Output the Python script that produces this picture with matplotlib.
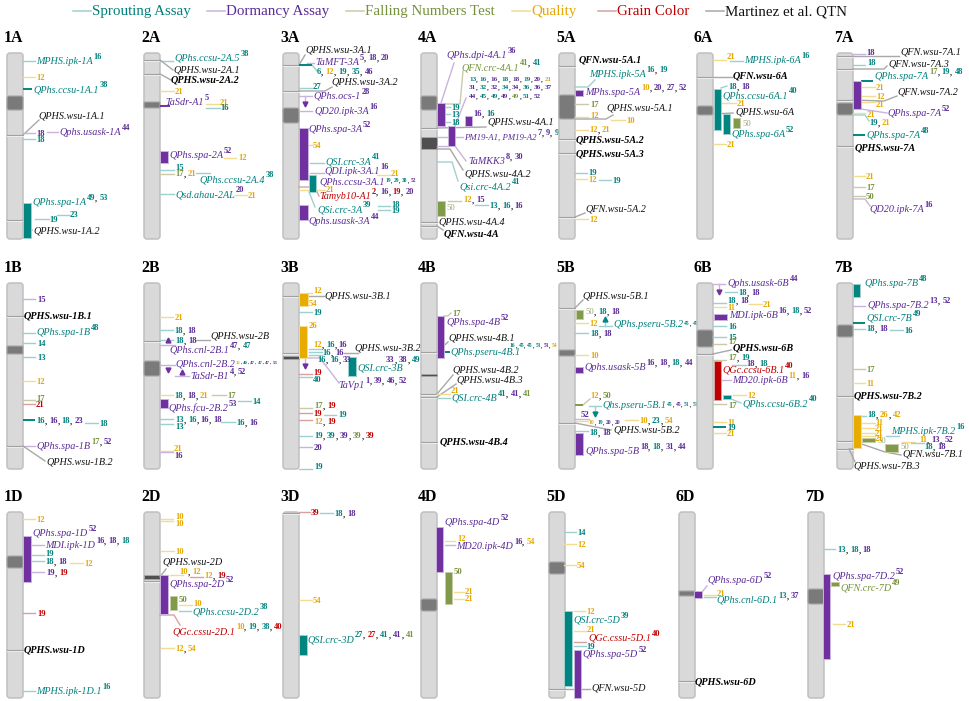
import matplotlib
matplotlib.use('Agg')
import matplotlib.pyplot as plt
from matplotlib.patches import FancyBboxPatch, Rectangle

plt.rcParams['font.family'] = ['Liberation Serif', 'DejaVu Serif']

WIDTH, HEIGHT = 970, 701
CHROM_W, CHROM_H = 16, 186

# trait codes: S sprouting, D dormancy, F falling number, Q quality, G grain colour, M Martinez QTN
LEGEND_NAMES = ['Sprouting Assay', 'Dormancy Assay', 'Falling Numbers Test', 'Quality', 'Grain Color', 'Martinez et al. QTN']
LEGEND_CODES = ['S', 'D', 'F', 'Q', 'G', 'M']
LEGEND_X = [73, 207, 346, 512, 598, 706]

CHROM_NAMES = ['1A', '2A', '3A', '4A', '5A', '6A', '7A',
               '1B', '2B', '3B', '4B', '5B', '6B', '7B',
               '1D', '2D', '3D', '4D', '5D', '6D', '7D']
CHROM_LEFT = [7, 144, 283, 421, 559, 697, 837,
              7, 144, 283, 421, 559, 697, 837,
              7, 144, 283, 421, 549, 679, 808]
CHROM_TOP = [53] * 7 + [283] * 7 + [512] * 7

# all positions below are px from the chromosome's left edge / top end
CENTROMERES = {
    '1A': (43, 57), '2A': (49, 55), '3A': (55, 70), '4A': (43, 57), '5A': (42, 66), '6A': (53, 62), '7A': (50, 62),
    '1B': (63, 71), '2B': (78, 93), '5B': (67, 73), '6B': (47, 64), '7B': (42, 54),
    '1D': (44, 56), '4D': (87, 99), '5D': (50, 62), '6D': (79, 84), '7D': (77, 92),
}
DARK_SEGMENTS = {'4A': (84, 96), '3B': (73, 76), '4B': (91, 93), '2D': (63, 67)}
BANDS = {
    '1A': [82, 167], '2A': [7, 21], '3A': [12, 38], '4A': [75, 169, 173], '5A': [13, 86, 100, 164], '6A': [24], '7A': [3, 16, 47, 93],
    '1B': [33, 163], '2B': [58], '3B': [13, 70], '4B': [69, 111, 114, 159], '5B': [25, 140], '6B': [71], '7B': [113, 158, 166],
    '1D': [138], '2D': [69], '3D': [1], '5D': [177], '6D': [169],
}

# (trait, x0, x1, y0, y1)
BARS = {
    '1A': [('S', 16, 24, 150, 185)],
    '2A': [('D', 16, 24, 98, 110)],
    '3A': [('D', 16, 25, 75, 127), ('S', 26, 33, 122, 139), ('D', 16, 25, 152, 167)],
    '4A': [('D', 16, 24, 50, 73), ('D', 27, 34, 73, 93), ('D', 44, 51, 63, 73), ('F', 16, 24, 148, 163)],
    '5A': [('D', 16, 24, 37, 43)],
    '6A': [('S', 17, 24, 36, 77), ('S', 26, 33, 61, 81), ('F', 36, 43, 65, 75)],
    '7A': [('D', 16, 24, 28, 56)],
    '2B': [('D', 16, 24, 116, 125)],
    '3B': [('Q', 16, 25, 10, 23), ('Q', 16, 24, 43, 75), ('S', 65, 73, 74, 93)],
    '4B': [('D', 16, 23, 33, 75)],
    '5B': [('F', 17, 24, 27, 36), ('D', 16, 24, 84, 90), ('D', 16, 24, 150, 172)],
    '6B': [('D', 17, 30, 31, 37), ('G', 17, 24, 78, 117), ('S', 26, 34, 112, 116)],
    '7B': [('S', 16, 23, 1, 14), ('Q', 16, 24, 132, 165), ('F', 25, 38, 155, 159), ('F', 48, 61, 161, 169)],
    '1D': [('D', 16, 24, 24, 70)],
    '2D': [('D', 16, 24, 63, 102), ('F', 26, 33, 84, 98)],
    '3D': [('S', 16, 24, 123, 143)],
    '4D': [('D', 15, 22, 15, 60), ('F', 24, 31, 60, 92)],
    '5D': [('S', 15, 23, 99, 174), ('D', 25, 32, 138, 186)],
    '6D': [('D', 15, 23, 79, 86)],
    '7D': [('D', 15, 22, 62, 147), ('F', 23, 31, 70, 74)],
}

# (trait, x0, y0, x1, y1, ...) polylines, drawn pale
LINES = {
    '1A': [('S', 16, 8, 28, 8), ('Q', 16, 24, 28, 24), ('M', 16, 82, 32, 67), ('D', 16, 80, 28, 80), ('D', 40, 79, 51, 79),
           ('S', 16, 86, 28, 86), ('S', 28, 166, 42, 166), ('S', 50, 162, 63, 162), ('M', 16, 167, 25, 177)],
    '2A': [('S', 16, 8, 29, 8), ('M', 16, 7, 29, 17), ('M', 16, 21, 27, 27), ('Q', 16, 38, 30, 38), ('Q', 62, 51, 76, 51),
           ('S', 62, 55, 76, 55), ('Q', 80, 105, 92, 105), ('S', 16, 117, 30, 117), ('F', 16, 121, 30, 121),
           ('S', 52, 120, 66, 120), ('S', 16, 141, 30, 141), ('Q', 91, 142, 103, 142)],
    '3A': [('M', 16, 12, 22, 2), ('D', 24, 10, 31, 10), ('S', 29, 12, 34, 18), ('S', 16, 35, 29, 35), ('M', 16, 38, 42, 38, 49, 34),
           ('D', 16, 43, 29, 43), ('D', 22, 43, 22, 50), ('D', 16, 58, 29, 58), ('Q', 16, 92, 30, 92), ('S', 27, 110, 41, 110),
           ('D', 27, 120, 41, 120), ('Q', 94, 122, 107, 122), ('G', 16, 134, 32, 134, 36, 143), ('Q', 16, 137, 42, 137),
           ('S', 26, 139, 32, 154), ('S', 95, 153, 107, 153), ('S', 95, 157, 107, 157)],
    '4A': [('D', 20, 50, 33, 10), ('F', 24, 51, 39, 51, 42, 18), ('S', 24, 54, 29, 54), ('S', 24, 61, 29, 61), ('S', 24, 69, 29, 69),
           ('D', 34, 73, 45, 45), ('M', 16, 75, 65, 74), ('D', 16, 84, 42, 84), ('D', 16, 93, 27, 93), ('D', 34, 93, 45, 108),
           ('M', 16, 96, 29, 96, 42, 117), ('S', 16, 109, 31, 109, 37, 128), ('F', 27, 148, 40, 148), ('S', 54, 152, 67, 152),
           ('M', 16, 173, 22, 177)],
    '5A': [('S', 16, 34, 29, 34, 36, 27), ('F', 16, 51, 29, 51), ('Q', 16, 64, 29, 64), ('M', 16, 66, 47, 66, 54, 62),
           ('Q', 52, 67, 66, 67), ('Q', 16, 77, 29, 77), ('S', 16, 120, 28, 120), ('Q', 16, 126, 28, 126), ('S', 40, 127, 52, 127),
           ('M', 16, 164, 26, 160), ('Q', 16, 166, 29, 166)],
    '6A': [('Q', 16, 7, 29, 7), ('S', 33, 8, 46, 8), ('M', 16, 24, 35, 24), ('S', 24, 35, 30, 33), ('Q', 24, 50, 39, 50),
           ('M', 16, 61, 36, 60), ('Q', 16, 91, 29, 91)],
    '7A': [('D', 16, 1, 28, 1), ('M', 16, 3, 62, 3), ('S', 16, 12, 28, 12), ('M', 16, 16, 47, 16, 50, 13), ('Q', 25, 34, 38, 34),
           ('Q', 25, 43, 38, 43), ('Q', 25, 49, 38, 49), ('M', 16, 47, 47, 48, 60, 43), ('D', 24, 56, 50, 60), ('Q', 16, 60, 28, 60),
           ('S', 16, 62, 28, 62, 32, 68), ('Q', 16, 123, 28, 123), ('F', 16, 134, 28, 134), ('F', 16, 143, 28, 143),
           ('D', 16, 146, 28, 146, 33, 153)],
    '1B': [('D', 16, 16, 28, 16), ('M', 16, 33, 17, 33), ('S', 16, 50, 28, 50), ('S', 16, 60, 28, 60), ('S', 16, 74, 28, 74),
           ('Q', 16, 98, 28, 98), ('F', 16, 117, 28, 117), ('G', 16, 121, 28, 121), ('S', 78, 140, 91, 140), ('D', 16, 163, 28, 163),
           ('M', 16, 163, 38, 178)],
    '2B': [('Q', 16, 34, 29, 34), ('S', 16, 47, 29, 47), ('S', 16, 57, 29, 57), ('M', 52, 57, 66, 57), ('D', 16, 62, 31, 62),
           ('D', 16, 82, 31, 82), ('D', 31, 93, 45, 93), ('Q', 16, 112, 29, 112), ('F', 68, 112, 82, 112), ('S', 94, 118, 107, 118),
           ('S', 16, 136, 29, 136), ('S', 77, 139, 91, 139), ('S', 16, 141, 29, 141), ('Q', 16, 168, 29, 168), ('D', 16, 169, 29, 169)],
    '3B': [('Q', 25, 10, 29, 10), ('M', 16, 13, 41, 13), ('S', 16, 29, 29, 29), ('S', 26, 66, 39, 66), ('S', 26, 69, 39, 69),
           ('S', 26, 72, 39, 72), ('M', 61, 70, 75, 70), ('D', 24, 75, 37, 75, 56, 100), ('D', 22, 75, 22, 82), ('G', 16, 91, 29, 91),
           ('S', 16, 94, 29, 94), ('F', 16, 125, 29, 125), ('G', 16, 130, 29, 130), ('S', 41, 132, 53, 132), ('G', 16, 137, 29, 137),
           ('S', 16, 153, 29, 153), ('D', 16, 164, 29, 164), ('S', 16, 186, 29, 186)],
    '4B': [('F', 23, 33, 27, 33, 30, 30), ('M', 16, 69, 27, 59), ('M', 16, 111, 32, 92), ('M', 16, 114, 35, 101), ('Q', 16, 111, 29, 111),
           ('S', 16, 115, 29, 115)],
    '5B': [('M', 16, 25, 24, 17), ('Q', 16, 40, 29, 40), ('S', 40, 43, 53, 43), ('S', 46, 43, 46, 37), ('S', 16, 50, 29, 50),
           ('Q', 16, 72, 29, 72), ('F', 24, 122, 31, 116), ('S', 30, 123, 42, 123), ('S', 36, 123, 36, 130), ('D', 16, 136, 30, 136),
           ('Q', 16, 138, 29, 138), ('Q', 66, 137, 79, 137), ('M', 16, 140, 52, 147), ('S', 16, 148, 29, 148)],
    '6B': [('D', 16, 1, 28, 1, 28, 1), ('D', 22, 1, 22, 8), ('S', 28, 9, 40, 9), ('S', 16, 20, 29, 20), ('Q', 16, 24, 29, 24), ('Q', 52, 21, 65, 21),
           ('S', 16, 43, 29, 43), ('S', 16, 54, 29, 54), ('F', 16, 61, 29, 61), ('M', 16, 71, 34, 67), ('F', 16, 77, 29, 77),
           ('S', 35, 82, 49, 82), ('D', 24, 97, 34, 97), ('Q', 36, 112, 49, 112), ('S', 34, 116, 44, 120), ('F', 16, 121, 29, 121),
           ('Q', 16, 139, 29, 139), ('Q', 16, 150, 29, 150)],
    '7B': [('D', 16, 23, 28, 23), ('S', 16, 46, 28, 46), ('S', 53, 47, 66, 47), ('F', 16, 86, 28, 86), ('Q', 16, 100, 28, 100),
           ('S', 24, 133, 29, 133), ('Q', 25, 140, 38, 140), ('Q', 25, 145, 38, 145), ('Q', 25, 150, 38, 150), ('Q', 25, 153, 38, 153),
           ('S', 49, 153, 62, 153), ('Q', 65, 159, 78, 159), ('S', 74, 160, 87, 160), ('M', 16, 158, 48, 169, 64, 172),
           ('M', 16, 166, 12, 166, 18, 179)],
    '1D': [('Q', 16, 7, 28, 7), ('D', 25, 33, 37, 33), ('S', 25, 43, 37, 43), ('S', 25, 49, 37, 49), ('Q', 63, 51, 76, 51),
           ('D', 25, 60, 37, 60), ('G', 16, 101, 28, 101), ('S', 16, 179, 28, 179)],
    '2D': [('Q', 17, 7, 29, 7), ('Q', 17, 9, 29, 9), ('Q', 17, 39, 30, 39), ('M', 16, 65, 22, 57), ('Q', 26, 63, 39, 63), ('G', 46, 65, 59, 65),
           ('Q', 35, 93, 48, 93), ('S', 35, 99, 47, 99), ('G', 16, 103, 30, 103, 36, 113), ('Q', 17, 136, 30, 136)],
    '3D': [('G', 16, 0, 27, 0), ('S', 37, 1, 50, 1), ('Q', 16, 88, 29, 88)],
    '4D': [('Q', 24, 29, 34, 29), ('D', 24, 33, 34, 33), ('Q', 33, 80, 43, 80), ('Q', 33, 87, 43, 87)],
    '5D': [('S', 15, 20, 27, 20), ('Q', 15, 32, 27, 32), ('Q', 15, 53, 27, 53), ('Q', 25, 99, 36, 99), ('Q', 25, 119, 37, 119),
           ('G', 25, 130, 37, 130), ('S', 25, 134, 37, 134), ('M', 16, 177, 41, 177)],
    '6D': [('D', 23, 80, 28, 74), ('Q', 25, 83, 37, 83), ('S', 25, 85, 37, 85)],
    '7D': [('S', 15, 37, 27, 37), ('Q', 25, 112, 37, 112)],
}

# full strength short lines (trait, x0, x1, y)
DARK_LINES = {
    '1A': [('S', 16, 25, 36)], '2A': [('D', 16, 26, 53)], '3A': [('S', 16, 29, 12)], '7A': [('S', 24, 36, 28), ('S', 16, 28, 82)],
    '1B': [('S', 16, 28, 137)], '4B': [('S', 23, 29, 69)], '5B': [('F', 16, 24, 122)], '6B': [('S', 16, 29, 144)],
    '7B': [('S', 16, 28, 40)],
}

# (x, y, trait, 'v' or '^')
ARROWS = {
    '3A': [(22, 51, 'D', 'v')], '2B': [(24, 57, 'D', '^'), (24, 87, 'D', 'v'), (38, 89, 'D', '^')], '3B': [(22, 83, 'D', 'v')],
    '5B': [(46, 36, 'S', '^'), (36, 131, 'S', 'v')], '6B': [(22, 9, 'D', 'v')],
}

# (x, y, name, name colour, reference numbers); trait B = bold black, a leading ~ ` ^ = tiny numbers
NAMES = {
    '1A': [(29, 8, 'MPHS.ipk-1A', 'S', '16S'), (26, 36, 'QPhs.ccsu-1A.1', 'S', '38S'), (31, 62, 'QPHS.wsu-1A.1', 'M', ''),
           (52, 79, 'Qphs.usask-1A', 'D', '44D'), (25, 149, 'QPhs.spa-1A', 'S', '49S 53S'), (26, 177, 'QPHS.wsu-1A.2', 'M', '')],
    '2A': [(30, 5, 'QPhs.ccsu-2A.5', 'S', '38S'), (29, 16, 'QPHS.wsu-2A.1', 'M', ''), (27, 26, 'QPHS.wsu-2A.2', 'B', ''),
           (21, 49, 'TaSdr-A1', 'D', '5D'), (25, 102, 'QPhs.spa-2A', 'D', '52D'), (55, 126, 'QPhs.ccsu-2A.4', 'S', '38S'),
           (31, 141, 'Qsd.ahau-2AL', 'S', '20D')],
    '3A': [(22, -4, 'QPHS.wsu-3A.1', 'M', ''), (32, 9, 'TaMFT-3A', 'D', '5D 18D 20D'), (48, 29, 'QPHS.wsu-3A.2', 'M', ''),
           (30, 43, 'QPhs.ocs-1', 'D', '28D'), (31, 58, 'QD20.ipk-3A', 'D', '16D'), (25, 76, 'QPhs.spa-3A', 'D', '52D'),
           (42, 108, 'QSI.crc-3A', 'S', '41S'), (41, 118, 'QDI.ipk-3A.1', 'D', '16D'), (36, 128, 'QPhs.ccsu-3A.1', 'D', '~19S 29S 38S 52D'),
           (36, 143, 'Tamyb10-A1', 'G', '2G 16D 19G 20D'), (34, 156, 'QSi.crc-3A', 'S', '39S'), (25, 168, 'Qphs.usask-3A', 'D', '44D')],
    '4A': [(25, 2, 'QPhs.dpi-4A.1', 'D', '36D'), (40, 14, 'QFN.crc-4A.1', 'F', '41F 41S'), (66, 68, 'QPHS.wsu-4A.1', 'M', ''),
           (43, 84, 'PM19-A1, PM19-A2', 'D', '7D 9D 9S'), (47, 108, 'TaMKK3', 'D', '8D 30D'), (43, 120, 'QPHS.wsu-4A.2', 'M', ''),
           (38, 133, 'Qsi.crc-4A.2', 'S', '41S'), (17, 168, 'QPHS.wsu-4A.4', 'M', ''), (23, 180, 'QFN.wsu-4A', 'B', '')],
    '5A': [(20, 6, 'QFN.wsu-5A.1', 'B', ''), (30, 21, 'MPHS.ipk-5A', 'S', '16S 19S'), (26, 39, 'MPhs.spa-5A', 'D', '10Q 20D 27D 52D'),
           (47, 55, 'QPHS.wsu-5A.1', 'M', ''), (17, 86, 'QPHS.wsu-5A.2', 'B', ''), (17, 100, 'QPHS.wsu-5A.3', 'B', ''),
           (26, 155, 'QFN.wsu-5A.2', 'M', '')],
    '6A': [(47, 7, 'MPHS.ipk-6A', 'S', '16S'), (36, 22, 'QFN.wsu-6A', 'B', ''), (25, 42, 'QPhs.ccsu-6A.1', 'S', '40S'),
           (38, 58, 'QPHS.wsu-6A', 'M', ''), (34, 81, 'QPhs.spa-6A', 'S', '52S')],
    '7A': [(63, -2, 'QFN.wsu-7A.1', 'M', ''), (51, 11, 'QFN.wsu-7A.3', 'M', ''), (37, 23, 'QPhs.spa-7A', 'S', '17F 19S 48S'),
           (60, 38, 'QFN.wsu-7A.2', 'M', ''), (50, 60, 'QPhs.spa-7A', 'D', '52D'), (29, 82, 'QPhs.spa-7A', 'S', '48S'),
           (18, 94, 'QPHS.wsu-7A', 'B', ''), (32, 156, 'QD20.ipk-7A', 'D', '16D')],
    '1B': [(17, 32, 'QPHS.wsu-1B.1', 'B', ''), (29, 49, 'QPhs.spa-1B', 'S', '48S'), (29, 163, 'QPhs.spa-1B', 'D', '17F 52D'),
           (39, 179, 'QPHS.wsu-1B.2', 'M', '')],
    '2B': [(66, 53, 'QPHS.wsu-2B', 'M', ''), (25, 67, 'QPhs.cnl-2B.1', 'D', '47D 47S'), (31, 80, 'QPhs.cnl-2B.2', 'D', '`12Q 40S 47D 47S 47D 53D'),
           (46, 93, 'TaSdr-B1', 'D', '4D 52D'), (24, 125, 'QPhs.fcu-2B.2', 'D', '53D')],
    '3B': [(41, 12, 'QPHS.wsu-3B.1', 'M', ''), (71, 64, 'QPHS.wsu-3B.2', 'M', ''), (74, 84, 'QSI.crc-3B', 'S', ''),
           (55, 102, 'TaVp1', 'D', '1D 39D 46D 52D')],
    '4B': [(25, 39, 'QPhs.spa-4B', 'D', '52D'), (27, 54, 'QPHS.wsu-4B.1', 'M', ''), (29, 69, 'QPhs.pseru-4B.1', 'S', ''),
           (31, 86, 'QPHS.wsu-4B.2', 'M', ''), (35, 97, 'QPHS.wsu-4B.3', 'M', ''), (30, 115, 'QSI.crc-4B', 'S', '41S 41D 41F'),
           (19, 158, 'QPHS.wsu-4B.4', 'B', '')],
    '5B': [(23, 12, 'QPHS.wsu-5B.1', 'M', ''), (54, 41, 'QPhs.pseru-5B.2', 'S', '~45S 45S'), (25, 84, 'Qphs.usask-5B', 'D', '16D 18D 18S 44D'),
           (43, 122, 'Qhs.pseru-5B.1', 'S', '~45S 45D 51S 51S'), (54, 147, 'QPHS.wsu-5B.2', 'M', ''), (26, 168, 'QPhs.spa-5B', 'D', '18D 18S 31D 44D')],
    '6B': [(30, 0, 'Qphs.usask-6B', 'D', '44D'), (32, 32, 'MDI.ipk-6B', 'D', '16D 18S 52D'), (36, 64, 'QPHS.wsu-6B', 'B', ''),
           (25, 87, 'QGc.ccsu-6B.1', 'G', '40G'), (35, 97, 'MD20.ipk-6B', 'D', '11Q 16D'), (45, 120, 'QPhs.ccsu-6B.2', 'S', '40S')],
    '7B': [(27, 0, 'QPhs.spa-7B', 'S', '48S'), (30, 22, 'QPhs.spa-7B.2', 'D', '13D 52D'), (29, 35, 'QSI.crc-7B', 'S', '49S'),
           (17, 113, 'QPHS.wsu-7B.2', 'B', ''), (54, 148, 'MPHS.ipk-7B.2', 'S', '16S'), (65, 171, 'QFN.wsu-7B.1', 'M', ''),
           (16, 182, 'QPHS.wsu-7B.3', 'M', '')],
    '1D': [(25, 21, 'QPhs.spa-1D', 'D', '52D'), (38, 33, 'MDI.ipk-1D', 'D', '16D 18D 18S'), (17, 138, 'QPHS.wsu-1D', 'B', ''),
           (29, 179, 'MPHS.ipk-1D.1', 'S', '16S')],
    '2D': [(18, 49, 'QPHS.wsu-2D', 'M', ''), (25, 72, 'QPhs.spa-2D', 'D', '52D'), (48, 99, 'QPhs.ccsu-2D.2', 'S', '38S'),
           (28, 119, 'QGc.cssu-2D.1', 'G', '10Q 19S 38S 40G')],
    '3D': [(24, 127, 'QSI.crc-3D', 'S', '27S 27G 41S 41D 41F')],
    '4D': [(23, 10, 'QPhs.spa-4D', 'D', '52D'), (35, 34, 'MD20.ipk-4D', 'D', '16D 54Q')],
    '5D': [(24, 108, 'QSI.crc-5D', 'S', '39S'), (39, 126, 'QGc.cssu-5D.1', 'G', '40G'), (33, 142, 'QPhs.spa-5D', 'D', '52D'),
           (42, 176, 'QFN.wsu-5D', 'M', '')],
    '6D': [(28, 68, 'QPhs.spa-6D', 'D', '52D'), (37, 88, 'QPhs.cnl-6D.1', 'S', '13S 37D'), (16, 169, 'QPHS.wsu-6D', 'B', '')],
    '7D': [(24, 64, 'QPhs.spa-7D.2', 'D', '52D'), (32, 75, 'QFN.crc-7D', 'F', '49F')],
}
SMALL_NAMES = ['PM19-A1, PM19-A2']

# (x, y, numbers); trait f = pale olive, a leading ~ ` ^ = tiny numbers
NUMS = {
    '1A': [(29, 24, '12Q'), (29, 80, '18D'), (29, 86, '18S'), (42, 166, '19S'), (63, 161, '23S')],
    '2A': [(31, 38, '21Q'), (76, 49, '21Q'), (76, 54, '16S'), (94, 104, '12Q'), (31, 114, '15S'), (31, 120, '17F 21Q'), (104, 142, '21Q')],
    '3A': [(34, 18, '6S 12Q 19S 35S 46D'), (30, 33, '27S'), (30, 92, '54Q'), (108, 120, '21Q'), (43, 136, '21Q'), (108, 151, '18S'), (108, 157, '19S')],
    '4A': [(48, 25, '^13S 16S 16D 18S 18D 19S 20D 21Q'), (48, 33, '^31D 32S 32D 34S 34D 36S 36D 37D'), (48, 42, '^44D 45S 49S 49D 49F 51S 52D'),
           (30, 54, '19S'), (30, 61, '13S'), (30, 69, '18S'), (52, 60, '16D 16S'), (25, 154, '50f'), (42, 146, '12Q 15D'), (68, 152, '13S 16S 16D')],
    '5A': [(31, 51, '17F'), (31, 62, '12Q'), (67, 67, '10Q'), (30, 76, '12Q 21Q'), (29, 119, '19S'), (29, 126, '12Q'), (53, 127, '19S'), (30, 166, '12Q')],
    '6A': [(30, 3, '21Q'), (31, 33, '18S 18D'), (40, 50, '21Q'), (45, 70, '50f'), (30, 91, '21Q')],
    '7A': [(29, -1, '18D'), (30, 9, '18S'), (39, 34, '21Q'), (39, 43, '12Q'), (39, 51, '21Q'), (30, 61, '21Q'), (32, 69, '19S 21Q'),
           (29, 123, '21Q'), (29, 134, '17F'), (29, 143, '50F')],
    '1B': [(30, 16, '15D'), (30, 60, '14S'), (30, 74, '13S'), (29, 98, '12Q'), (29, 115, '17F'), (29, 121, '21G'), (29, 137, '16S 16D 18S 23D'), (92, 140, '18S')],
    '2B': [(31, 34, '21Q'), (30, 47, '18S 18D'), (31, 57, '18S 18D'), (30, 112, '18S 18D 21Q'), (83, 112, '17F'), (108, 118, '14S'),
           (31, 136, '13S 16S 16D 18D'), (92, 139, '16S 16D'), (31, 143, '13S'), (30, 165, '21Q'), (30, 172, '16D')],
    '3B': [(30, 7, '12Q'), (26, 20, '54Q'), (30, 29, '19S'), (26, 42, '26Q'), (30, 61, '12Q 16S 16D'), (39, 69, '16S 16D'), (34, 76, '16S 16S 33D'),
           (103, 76, '33D 38D 49S'), (30, 89, '19G'), (30, 96, '40S'), (31, 122, '17F 19G'), (30, 130, '19G'), (55, 131, '19S'), (31, 138, '12Q 19G'),
           (31, 152, '19S 39S 39D 39F 39G'), (31, 164, '20D'), (31, 183, '19S')],
    '4B': [(31, 30, '17F'), (89, 61, '~16S 45S 45S 51S 51D 54Q'), (30, 107, '21Q')],
    '5B': [(26, 28, '50f 18S 18D'), (30, 40, '12Q'), (31, 50, '18S 18D'), (31, 72, '10Q'), (31, 112, '12Q 50F'), (22, 131, '52D'),
           (30, 138, '~10Q 19S 20D 20D'), (80, 137, '10Q 23S 54Q'), (30, 149, '18S 18D')],
    '6B': [(41, 9, '18S 18D'), (30, 17, '18S 18D'), (30, 24, '11Q'), (66, 21, '21Q'), (31, 43, '16S'), (31, 54, '15S'), (31, 58, '17F'),
           (31, 74, '17F 19S'), (49, 80, '18D 18S'), (50, 112, '12Q'), (31, 122, '17F'), (30, 139, '11Q'), (30, 144, '19S'), (30, 150, '21Q')],
    '7B': [(29, 45, '18S 18D'), (67, 47, '16S'), (29, 86, '17F'), (29, 100, '11Q'), (30, 131, '18S 26Q 42Q'), (38, 139, '11Q'), (38, 145, '21Q'),
           (38, 150, '21Q'), (38, 155, '21Q'), (40, 157, '50f'), (63, 163, '50f'), (82, 156, '11Q 13D 52D'), (87, 163, '18S 18D')],
    '1D': [(29, 7, '12Q'), (38, 41, '19S'), (38, 49, '18S 18D'), (77, 51, '12Q'), (39, 60, '19D 19G'), (30, 101, '19G')],
    '2D': [(31, 4, '10Q'), (31, 11, '10Q'), (31, 39, '10Q'), (35, 59, '10Q 12Q'), (60, 63, '12Q 19G'), (35, 87, '50F'), (49, 91, '10Q'), (31, 136, '12Q 54Q')],
    '3D': [(28, 0, '39G'), (51, 1, '18S 18D'), (30, 88, '54Q')],
    '4D': [(36, 26, '12Q'), (33, 59, '50F'), (44, 79, '21Q'), (44, 86, '21Q')],
    '5D': [(28, 20, '14S'), (28, 32, '12Q'), (28, 53, '54Q'), (37, 99, '12Q'), (38, 117, '21Q'), (37, 134, '19S')],
    '6D': [(38, 81, '21Q')],
    '7D': [(29, 37, '13S 18S 18D'), (39, 112, '21Q')],
}

TEXT_COLORS = {'S': '#00807c', 'D': '#5a2a96', 'F': '#76923c', 'Q': '#e6a800', 'G': '#c00000', 'M': '#111111', 'B': '#000000', 'f': '#9aa672'}
BAR_COLORS = {'S': '#008580', 'D': '#7030a0', 'F': '#7f9a48', 'Q': '#e8ab00', 'G': '#c00000'}
LINE_COLORS = {'S': '#9fd0d0', 'D': '#c9b3dc', 'F': '#c9cba8', 'Q': '#f3dc90', 'G': '#d9a0a0', 'M': '#a8a8a8'}
TINY_SIZES = {'~': 4.0, '`': 3.4, '^': 5.1}


def draw_runs(ax, renderer, x, y, refs, size, raise_by=0):
    # numbers in trait colours with black commas, one text object each
    tokens = refs.split()
    for i, tok in enumerate(tokens):
        color = TEXT_COLORS[tok[-1]]
        weight = 'normal' if tok[-1] == 'f' else 'bold'
        t = ax.text(x, y + 3 - raise_by, tok[:-1], color=color, fontsize=size, fontweight=weight, va='baseline', zorder=7)
        x += t.get_window_extent(renderer).width
        if i < len(tokens) - 1:
            c = ax.text(x, y + 3 - raise_by, ',', color='#222222', fontsize=size, fontweight='bold', va='baseline', zorder=7)
            x += c.get_window_extent(renderer).width + size * 0.36


fig = plt.figure(figsize=(WIDTH / 100, HEIGHT / 100), dpi=100)
renderer = fig.canvas.get_renderer()

# legend along the top
for name, code, x in zip(LEGEND_NAMES, LEGEND_CODES, LEGEND_X):
    fig.add_artist(plt.Line2D([x / WIDTH, (x + 18) / WIDTH], [1 - 11 / HEIGHT] * 2, color=LINE_COLORS[code], lw=1.1))
    fig.text((x + 19) / WIDTH, 1 - 15 / HEIGHT, name, color=TEXT_COLORS[code], fontsize=10.8, va='baseline')

for chrom, left, top in zip(CHROM_NAMES, CHROM_LEFT, CHROM_TOP):
    ax = fig.add_axes([left / WIDTH, 1 - (top + CHROM_H) / HEIGHT, CHROM_W / WIDTH, CHROM_H / HEIGHT])
    ax.set_xlim(0, CHROM_W)
    ax.set_ylim(CHROM_H, 0)
    ax.axis('off')

    ax.text(-3, -15, chrom, fontsize=11.4, fontweight='bold', color='black', va='center')
    ax.add_patch(FancyBboxPatch((0, 0), CHROM_W, CHROM_H, boxstyle='round,pad=0,rounding_size=3',
                                fc='#d9d9d9', ec='#c0c0c0', lw=1.1, clip_on=False, zorder=1))

    if chrom in CENTROMERES:
        y0, y1 = CENTROMERES[chrom]
        rounding = 2 if y1 - y0 > 8 else 0
        ax.add_patch(FancyBboxPatch((0, y0), CHROM_W, y1 - y0, boxstyle=f'round,pad=0,rounding_size={rounding}',
                                    fc='#7a7a7a', ec='#a8a8a8', lw=0.8, clip_on=False, zorder=2))
    if chrom in DARK_SEGMENTS:
        y0, y1 = DARK_SEGMENTS[chrom]
        ax.add_patch(Rectangle((0, y0), CHROM_W, y1 - y0, fc='#4f4f4f', ec='#a8a8a8', lw=0.6, clip_on=False, zorder=2))

    for y in BANDS.get(chrom, []):
        ax.plot([0, CHROM_W], [y + 1, y + 1], color='#f2f2f2', lw=0.7, clip_on=False, zorder=2)
        ax.plot([0, CHROM_W], [y, y], color='#a0a0a0', lw=0.8, clip_on=False, zorder=2.1)

    for line in LINES.get(chrom, []):
        code, pts = line[0], line[1:]
        ax.plot(pts[0::2], pts[1::2], color=LINE_COLORS[code], lw=1.0, clip_on=False, zorder=3)

    for code, x0, x1, y in DARK_LINES.get(chrom, []):
        ax.plot([x0, x1], [y, y], color=BAR_COLORS[code], lw=1.4, clip_on=False, solid_capstyle='butt', zorder=3)

    for code, x0, x1, y0, y1 in BARS.get(chrom, []):
        ax.add_patch(Rectangle((x0, y0), x1 - x0, y1 - y0, fc=BAR_COLORS[code], ec=LINE_COLORS.get(code, '#cccccc'),
                               lw=0.7, clip_on=False, zorder=4))

    for x, y, code, marker in ARROWS.get(chrom, []):
        ax.plot([x], [y], marker=marker, color=BAR_COLORS[code], ms=3.5, clip_on=False, zorder=5)

    for x, y, name, code, refs in NAMES.get(chrom, []):
        weight = 'bold' if code == 'B' else 'normal'
        size = 6.3 if name in SMALL_NAMES else 7.3
        t = ax.text(x, y + 3, name, color=TEXT_COLORS[code], fontsize=size, fontstyle='italic', fontweight=weight, va='baseline', zorder=6)
        if refs:
            end = x + t.get_window_extent(renderer).width + 1
            if refs[0] in TINY_SIZES:
                draw_runs(ax, renderer, end, y, refs[1:], TINY_SIZES[refs[0]], raise_by=2)
            else:
                draw_runs(ax, renderer, end, y, refs, 6.0, raise_by=5)

    for x, y, refs in NUMS.get(chrom, []):
        if refs[0] in TINY_SIZES:
            draw_runs(ax, renderer, x, y, refs[1:], TINY_SIZES[refs[0]])
        else:
            draw_runs(ax, renderer, x, y, refs, 6.2)

fig.savefig('out.png', dpi=100)
